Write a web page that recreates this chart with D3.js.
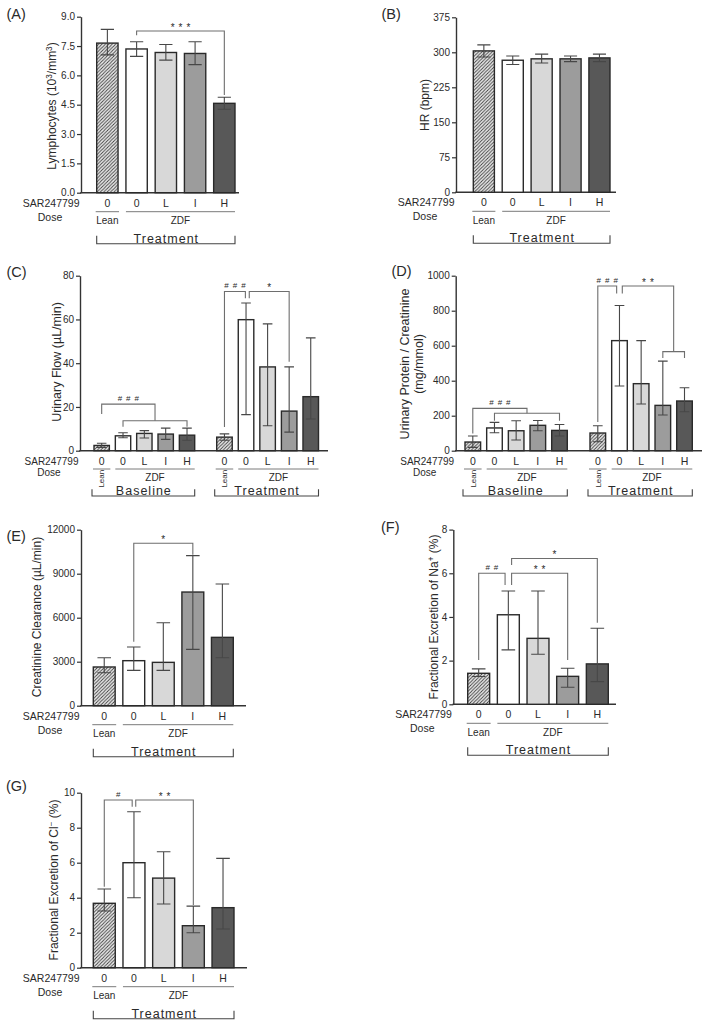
<!DOCTYPE html>
<html><head><meta charset="utf-8">
<script src="https://cdn.jsdelivr.net/npm/d3@7"></script>
<style>
body{margin:0;background:#fff}
svg{display:block}
text{font-family:"Liberation Sans",Arial,Helvetica,sans-serif;fill:#2a2a2a}
</style>
</head><body>
<svg id="c" width="709" height="1024"></svg>
<script>
// ---------- shared categories ----------
const doseLabels = ["0","0","L","I","H"];
const strainLabels = ["Lean","ZDF"];
const doseTitle = ["SAR247799","Dose"];
const fills = ["url(#hatch)","#ffffff","#d8d8d8","#9c9c9c","#585858"];

// ---------- (A) Lymphocytes ----------
const lymphMean = [7.65,7.35,7.17,7.12,4.57];
const lymphLo   = [7.05,6.97,6.78,6.55,4.27];
const lymphHi   = [8.35,7.72,7.58,7.72,4.88];
const lymphTicks = [0,1.5,3,4.5,6,7.5,9];

// ---------- (B) HR ----------
const hrMean = [303,283,286,286,288];
const hrLo   = [290,274,277,280,280];
const hrHi   = [316,292,296,292,296];
const hrTicks = [0,75,150,225,300,375];

// ---------- (C) Urinary flow ----------
const flowBaseMean = [2.4,6.8,7.9,7.6,7.1];
const flowBaseLo   = [1.5,5.9,5.8,5.2,4.8];
const flowBaseHi   = [3.4,8.2,9.2,10.3,10.3];
const flowTreatMean = [6.2,59.9,38.3,18.1,24.7];
const flowTreatLo   = [4.8,16.5,11.4,8.5,14.5];
const flowTreatHi   = [7.7,67.5,58.0,38.3,51.6];
const flowTicks = [0,20,40,60,80];

// ---------- (D) Urinary protein / creatinine ----------
const protBaseMean = [49.5,130,114,145,116];
const protBaseLo   = [19,103,61,114,84];
const protBaseHi   = [84,162,171,173,150];
const protTreatMean = [101,629,383,259,284];
const protTreatLo   = [51,370,267,204,223];
const protTreatHi   = [143,830,629,512,360];
const protTicks = [0,200,400,600,800,1000];

// ---------- (E) Creatinine clearance ----------
const clearMean = [2640,3070,2955,7750,4660];
const clearLo   = [2250,2410,2410,3840,3270];
const clearHi   = [3270,4000,5660,10230,8300];
const clearTicks = [0,3000,6000,9000,12000];

// ---------- (F) FE Na+ ----------
const feNaMean = [1.42,4.1,3.02,1.28,1.85];
const feNaLo   = [1.27,2.49,2.29,0.78,1.04];
const feNaHi   = [1.62,5.19,5.19,1.65,3.48];
const feNaTicks = [0,2,4,6,8];

// ---------- (G) FE Cl- ----------
const feClMean = [3.68,6.0,5.12,2.4,3.43];
const feClLo   = [3.24,4.0,3.64,2.0,2.21];
const feClHi   = [4.5,8.91,6.63,3.52,6.25];
const feClTicks = [0,2,4,6,8,10];

// ---------- drawing ----------
const svg = d3.select("#c");
const defs = svg.append("defs");
const pat = defs.append("pattern").attr("id","hatch").attr("patternUnits","userSpaceOnUse")
  .attr("width",3.4).attr("height",3.4);
pat.append("rect").attr("width",3.4).attr("height",3.4).attr("fill","#ececec");
pat.append("path").attr("d","M-1,1 l2,-2 M0,3.4 l3.4,-3.4 M2.4,4.4 l2,-2")
  .attr("stroke","#3c3c3c").attr("stroke-width",0.9);

const LAY_STD = {dose:14, doseLbl:28, line:19, strain:31.5, tick:43, bot:51, name:50, titleSize:10.5};
const LAY_CMP = {dose:13.9, doseLbl:25, line:18.3, leanC:28, strain:30.3, tick:38.6, bot:45.3, name:44.6, titleSize:10};

function rotText(g, x, cy, size, parts){
  const t = g.append("text").attr("transform",`translate(${x},${cy}) rotate(-90)`)
    .attr("text-anchor","middle").attr("dy","0.35em").attr("font-size",size);
  parts.forEach((p,i)=>{
    const prev = i>0 ? parts[i-1] : null;
    if (typeof p === "string"){
      const ts = t.append("tspan").text(p);
      if (prev && typeof prev !== "string") ts.attr("dy",4);
    } else {
      t.append("tspan").attr("dy",-4).attr("font-size",size*0.68).text(p.t);
    }
  });
  return t;
}

function panel(cfg){
  const g = svg.append("g");
  const L = cfg.lay;
  const y = d3.scaleLinear().domain(cfg.domain).range([cfg.yBase, cfg.yTop]);

  // panel letter
  g.append("text").attr("x",cfg.letter[0]).attr("y",cfg.letter[1]).attr("font-size",14.5).text(cfg.letterText);

  // y axis
  const ax = d3.axisLeft(y).tickValues(cfg.ticks).tickSize(4).tickSizeOuter(0).tickPadding(2)
    .tickFormat(cfg.fmt ? d3.format(cfg.fmt) : d3.format("d"));
  const ag = g.append("g").attr("transform",`translate(${cfg.axisX},0)`).call(ax);
  ag.select(".domain").attr("stroke","#333").attr("stroke-width",1.4);
  ag.selectAll(".tick line").attr("stroke","#333").attr("stroke-width",1.2);
  ag.selectAll(".tick text").attr("font-size",10).attr("fill","#333")
    .style("font-family",'"Liberation Sans",Arial,sans-serif');

  // x axis baseline
  g.append("line").attr("x1",cfg.axisX-0.7).attr("x2",cfg.axisEnd)
    .attr("y1",cfg.yBase).attr("y2",cfg.yBase).attr("stroke","#333").attr("stroke-width",1.4);

  // y label
  rotText(g, cfg.ylabelX, cfg.ylabelY, cfg.ylabelSize, cfg.ylabel);
  if (cfg.ylabel2) rotText(g, cfg.ylabelX2, cfg.ylabelY, cfg.ylabelSize, cfg.ylabel2);

  // left titles
  g.append("text").attr("x",cfg.axisX-1.5).attr("y",cfg.yBase+L.dose).attr("text-anchor","end")
    .attr("font-size",L.titleSize).text(doseTitle[0]);
  g.append("text").attr("x",cfg.axisX-31).attr("y",cfg.yBase+L.doseLbl).attr("text-anchor","middle")
    .attr("font-size",L.titleSize).text(doseTitle[1]);

  cfg.groups.forEach(grp=>{
    const x = d3.scaleBand().domain(d3.range(grp.mean.length)).range([grp.x0, grp.x1])
      .paddingInner(cfg.pad).paddingOuter(0);
    const bw = x.bandwidth();
    grp.cx = i => x(0) + bw/2 + i*x.step();
    const idx = d3.range(grp.mean.length);

    g.append("g").selectAll("rect").data(idx).join("rect")
      .attr("x",i=>x(i)).attr("y",i=>y(grp.mean[i]))
      .attr("width",bw).attr("height",i=>cfg.yBase-y(grp.mean[i]))
      .attr("fill",i=>fills[i]).attr("stroke","#2a2a2a").attr("stroke-width",1.4);

    const cap = bw*0.62;
    const eg = g.append("g").attr("stroke","#474747").attr("stroke-width",1.1).attr("fill","none");
    eg.selectAll("path").data(idx).join("path")
      .attr("d",i=>{
        const c = grp.cx(i), lo = y(grp.lo[i]), hi = y(grp.hi[i]);
        return `M${c},${lo}V${hi}M${c-cap/2},${hi}H${c+cap/2}M${c-cap/2},${lo}H${c+cap/2}`;
      });

    // dose labels
    g.append("g").selectAll("text").data(idx).join("text")
      .attr("x",i=>grp.cx(i)).attr("y",cfg.yBase+L.dose).attr("text-anchor","middle")
      .attr("font-size",10.5).text(i=>doseLabels[i]);

    // strain lines
    const ly = cfg.yBase+L.line;
    g.append("line").attr("x1",x(0)-1).attr("x2",x(0)+bw+1).attr("y1",ly).attr("y2",ly)
      .attr("stroke","#7a7a7a").attr("stroke-width",1);
    g.append("line").attr("x1",x(1)).attr("x2",x(4)+bw).attr("y1",ly).attr("y2",ly)
      .attr("stroke","#7a7a7a").attr("stroke-width",1);
    if (cfg.rotLean){
      g.append("text").attr("transform",`translate(${grp.cx(0)},${cfg.yBase+L.leanC}) rotate(-90)`)
        .attr("text-anchor","middle").attr("dy","0.35em").attr("font-size",8).text(strainLabels[0]);
    } else {
      g.append("text").attr("x",grp.cx(0)).attr("y",cfg.yBase+L.strain).attr("text-anchor","middle")
        .attr("font-size",10).text(strainLabels[0]);
    }
    g.append("text").attr("x",(grp.cx(1)+grp.cx(4))/2).attr("y",cfg.yBase+L.strain).attr("text-anchor","middle")
      .attr("font-size",10).text(strainLabels[1]);

    // phase bracket
    const bx0 = x(0)-(cfg.rotLean?2:0), bx1 = x(4)+bw;
    g.append("path").attr("d",`M${bx0},${cfg.yBase+L.tick}V${cfg.yBase+L.bot}H${bx1}V${cfg.yBase+L.tick}`)
      .attr("fill","none").attr("stroke","#444").attr("stroke-width",1.1);
    g.append("text").attr("x",(bx0+bx1)/2+0.5).attr("y",cfg.yBase+L.name).attr("text-anchor","middle")
      .attr("font-size",12.5).attr("letter-spacing",1).text(grp.name);
  });

  // significance brackets
  (cfg.sig||[]).forEach(s=>{
    const G = cfg.groups[s.g];
    const xa = G.cx(s.a), xb = G.cx(s.b);
    g.append("path").attr("d",`M${xa},${y(s.ya)}V${y(s.y)}H${xb}V${y(s.yb)}`)
      .attr("fill","none").attr("stroke","#6e6e6e").attr("stroke-width",1.1);
    if (s.t){
      const hash = s.t[0]==="#";
      const ls = 4;
      g.append("text").attr("x",(xa+xb)/2+ls/2).attr("y",y(s.y)-(hash?3.5:0.3))
        .attr("text-anchor","middle").attr("font-size",hash?8:10).attr("letter-spacing",ls)
        .attr("fill","#333").text(s.t);
    }
  });
}

// (A)
panel({letterText:"(A)", letter:[6.5,19], axisX:81, axisEnd:239, yBase:192.7, yTop:16.7,
  domain:[0,9], ticks:lymphTicks, fmt:".1f", pad:0.27, lay:LAY_STD,
  ylabel:["Lymphocytes (10",{sup:1,t:"3"},"/mm",{sup:1,t:"3"},")"], ylabelX:51.7, ylabelY:106, ylabelSize:12,
  groups:[{name:"Treatment", x0:96.7, x1:235, mean:lymphMean, lo:lymphLo, hi:lymphHi}],
  sig:[{g:0,a:1,b:4,y:8.27,ya:8.05,yb:5.0,t:"***"}]});

// (B)
panel({letterText:"(B)", letter:[381.5,19], axisX:456, axisEnd:616, yBase:192.3, yTop:17.3,
  domain:[0,375], ticks:hrTicks, pad:0.27, lay:LAY_STD,
  ylabel:["HR (bpm)"], ylabelX:425, ylabelY:105, ylabelSize:12,
  groups:[{name:"Treatment", x0:473.3, x1:610, mean:hrMean, lo:hrLo, hi:hrHi}]});

// (C)
panel({letterText:"(C)", letter:[6.5,277], axisX:80, axisEnd:328, yBase:450.7, yTop:275.7,
  domain:[0,80], ticks:flowTicks, pad:0.28, lay:LAY_CMP, rotLean:true,
  ylabel:["Urinary Flow (\u00b5L/min)"], ylabelX:56.7, ylabelY:362, ylabelSize:12.5,
  groups:[{name:"Baseline", x0:94, x1:194.7, mean:flowBaseMean, lo:flowBaseLo, hi:flowBaseHi},
          {name:"Treatment", x0:216.7, x1:318.5, mean:flowTreatMean, lo:flowTreatLo, hi:flowTreatHi}],
  sig:[{g:0,a:0,b:2.5,y:21.3,ya:16.8,yb:13.7,t:"###"},
       {g:0,a:1,b:4,y:13.7,ya:10.9,yb:10.9},
       {g:1,a:0,b:0.97,y:72.8,ya:10.8,yb:69.7,t:"###"},
       {g:1,a:1.15,b:3,y:72.8,ya:69.7,yb:40.7,t:"*"}]});

// (D)
panel({letterText:"(D)", letter:[391.5,276], axisX:455.7, axisEnd:702, yBase:450.7, yTop:275.7,
  domain:[0,1000], ticks:protTicks, pad:0.28, lay:LAY_CMP, rotLean:true,
  ylabel:["Urinary Protein / Creatinine"], ylabel2:["(mg/mmol)"], ylabelX:405, ylabelX2:418.5,
  ylabelY:364, ylabelSize:12.5,
  groups:[{name:"Baseline", x0:465, x1:567.3, mean:protBaseMean, lo:protBaseLo, hi:protBaseHi},
          {name:"Treatment", x0:590, x1:692.3, mean:protTreatMean, lo:protTreatLo, hi:protTreatHi}],
  sig:[{g:0,a:0,b:2.5,y:242,ya:99,yb:214,t:"###"},
       {g:0,a:1,b:4,y:214,ya:171,yb:171},
       {g:1,a:0,b:0.87,y:941,ya:164,yb:899,t:"###"},
       {g:1,a:1.13,b:3.5,y:941,ya:899,yb:566,t:"**"},
       {g:1,a:3,b:4,y:566,ya:530,yb:530}]});

// (E)
panel({letterText:"(E)", letter:[6.5,541], axisX:81, axisEnd:246, yBase:705.7, yTop:529.7,
  domain:[0,12000], ticks:clearTicks, pad:0.26, lay:LAY_STD,
  ylabel:["Creatinine Clearance (\u00b5L/min)"], ylabelX:36.7, ylabelY:617, ylabelSize:12,
  groups:[{name:"Treatment", x0:93.3, x1:233.3, mean:clearMean, lo:clearLo, hi:clearHi}],
  sig:[{g:0,a:1,b:3,y:11073,ya:4364,yb:10300,t:"*"}]});

// (F)
panel({letterText:"(F)", letter:[381,532], axisX:453.3, axisEnd:616, yBase:704.3, yTop:529.6,
  domain:[0,8], ticks:feNaTicks, pad:0.26, lay:LAY_STD,
  ylabel:["Fractional Excretion of Na",{sup:1,t:"+"}," (%)"], ylabelX:434, ylabelY:617, ylabelSize:12,
  groups:[{name:"Treatment", x0:467.7, x1:608.3, mean:feNaMean, lo:feNaLo, hi:feNaHi}],
  sig:[{g:0,a:0,b:0.89,y:6.0,ya:2.03,yb:5.46,t:"##"},
       {g:0,a:1.11,b:3,y:6.0,ya:5.46,yb:2.03,t:"**"},
       {g:0,a:1.11,b:4,y:6.68,ya:6.38,yb:3.74,t:"*"}]});

// (G)
panel({letterText:"(G)", letter:[6,791], axisX:81, axisEnd:247, yBase:967.7, yTop:792.7,
  domain:[0,10], ticks:feClTicks, pad:0.26, lay:LAY_STD,
  ylabel:["Fractional Excretion of Cl",{sup:1,t:"\u2212"}," (%)"], ylabelX:53.3, ylabelY:880, ylabelSize:12,
  groups:[{name:"Treatment", x0:93.3, x1:234, mean:feClMean, lo:feClLo, hi:feClHi}],
  sig:[{g:0,a:0,b:0.94,y:9.58,ya:4.63,yb:9.2,t:"#"},
       {g:0,a:1.06,b:3,y:9.58,ya:9.2,yb:3.58,t:"**"}]});
</script>
</body></html>
